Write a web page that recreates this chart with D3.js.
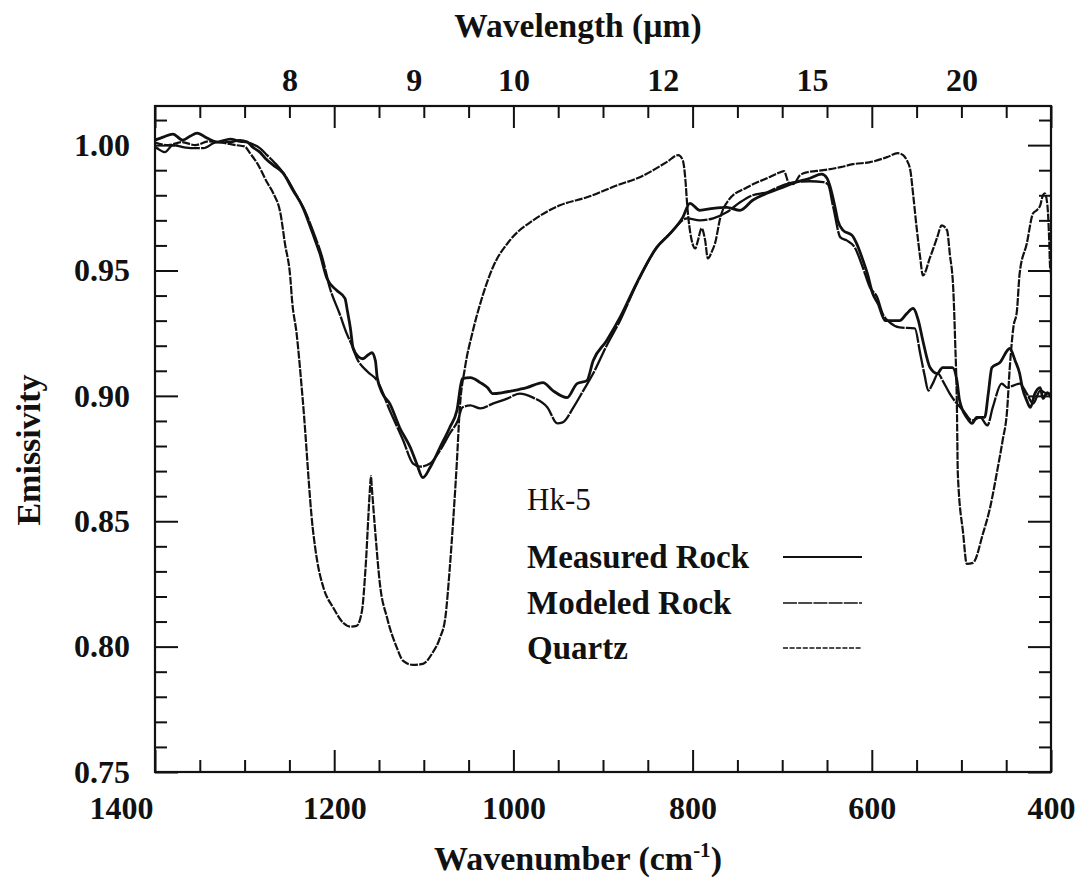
<!DOCTYPE html>
<html>
<head>
<meta charset="utf-8">
<script src="https://cdn.jsdelivr.net/npm/d3@7/dist/d3.min.js"></script>
<style>
  html, body { margin: 0; padding: 0; background: #fff; }
  svg { display: block; }
  text { font-family: "Liberation Serif", "Times New Roman", serif; fill: #111; }
</style>
</head>
<body>
<svg id="chart" width="1080" height="882"></svg>
<script>
// Emissivity spectra of sample Hk-5: [wavenumber (cm-1), emissivity]
const measuredRock = [
  [1400,1.002],[1391,1.0032],[1380,1.0044],[1369,1.002],[1361,1.0035],[1353,1.0048],[1342,1.0028],
  [1331,1.0012],[1316,1.0024],[1305,1.0015],[1297,1.0012],[1291,0.9992],[1283,0.9972],[1277,0.9948],
  [1268,0.992],[1257,0.9888],[1246,0.982],[1235,0.9752],[1224,0.9648],[1216,0.9568],[1208,0.9468],
  [1197,0.942],[1188,0.9389],[1185,0.9333],[1182,0.9272],[1179,0.9192],[1173,0.9156],[1168,0.9148],
  [1162,0.9164],[1158,0.9172],[1154,0.914],[1152,0.9073],[1146,0.9009],[1138,0.8969],[1127,0.8874],
  [1115,0.8794],[1108,0.873],[1101,0.8674],[1093,0.8714],[1082,0.8794],[1071,0.8874],[1063,0.8942],
  [1057,0.9069],[1048,0.9073],[1037,0.9053],[1029,0.9033],[1023,0.9009],[1012,0.9013],[1000,0.9021],
  [985,0.9033],[967,0.9053],[956,0.9021],[940,0.8993],[929,0.9049],[918,0.9061],[911,0.914],
  [896,0.922],[881,0.9313],[862,0.9453],[840,0.9592],[825,0.9648],[811,0.9712],[803,0.9768],
  [792,0.974],[777,0.9748],[762,0.9752],[747,0.974],[733,0.978],[717,0.9808],[702,0.9828],
  [688,0.9848],[669,0.9868],[656,0.9884],[650,0.9868],[647,0.984],[641,0.9752],[638,0.970],
  [632,0.966],[622,0.964],[617,0.9608],[611,0.9552],[605,0.9488],[599,0.9408],[593,0.9368],
  [585,0.930],[577,0.930],[569,0.930],[561,0.9328],[554,0.9349],[548,0.930],[543,0.922],
  [535,0.9113],[527,0.9089],[521,0.9113],[510,0.9113],[505,0.9061],[502,0.8981],[494,0.8914],
  [488,0.889],[483,0.8914],[474,0.8914],[470,0.9009],[466,0.9113],[457,0.9133],[446,0.9189],
  [440,0.914],[435,0.9089],[432,0.9033],[427,0.8981],[423,0.8954],[418,0.9009],[412,0.9033],
  [409,0.899],[404,0.9013],[400,0.8993]
];

const modeledRock = [
  [1400,0.9992],[1398,0.9988],[1389,0.9972],[1380,1.000],[1369,0.9992],[1358,0.9988],[1346,0.9988],
  [1331,1.0012],[1316,1.0012],[1305,1.002],[1294,1.0008],[1283,0.9988],[1275,0.996],[1266,0.9928],
  [1255,0.988],[1244,0.9812],[1233,0.974],[1221,0.9632],[1213,0.9548],[1205,0.9432],[1194,0.9328],
  [1186,0.9248],[1180,0.920],[1175,0.9152],[1163,0.9097],[1152,0.9061],[1138,0.8942],[1123,0.8822],
  [1112,0.873],[1104,0.8718],[1093,0.873],[1082,0.8782],[1071,0.885],[1062,0.8902],[1057,0.8954],
  [1048,0.8962],[1037,0.895],[1023,0.8969],[1007,0.8989],[993,0.9009],[978,0.8993],[962,0.8954],
  [951,0.889],[945,0.8894],[933,0.8954],[922,0.9021],[911,0.9089],[896,0.920],[881,0.930],
  [862,0.9449],[840,0.9592],[825,0.9648],[806,0.9708],[792,0.970],[777,0.9708],[762,0.9732],
  [747,0.9772],[733,0.980],[717,0.9812],[702,0.9836],[686,0.9852],[669,0.9856],[654,0.9852],
  [649,0.9844],[643,0.9752],[635,0.9632],[628,0.962],[619,0.9592],[610,0.9512],[602,0.9432],
  [594,0.9393],[588,0.9329],[580,0.9293],[569,0.9273],[552,0.9269],[546,0.9169],[541,0.9081],
  [537,0.9021],[532,0.9049],[526,0.9089],[521,0.9061],[513,0.9009],[505,0.8969],[498,0.8942],
  [488,0.8902],[479,0.8914],[471,0.8882],[465,0.8954],[455,0.9049],[449,0.9033],[442,0.9041],
  [435,0.9049],[427,0.9009],[420,0.8969],[412,0.9021],[404,0.9009],[400,0.9009]
];

const quartz = [
  [1400,1.001],[1385,1.000],[1370,1.0012],[1355,1.000],[1340,1.0015],[1325,1.001],[1310,1.000],
  [1300,0.9995],[1294,0.9968],[1286,0.9928],[1275,0.9852],[1268,0.9808],[1260,0.9728],[1255,0.9608],
  [1249,0.9472],[1247,0.938],[1242,0.925],[1235,0.898],[1224,0.8474],[1219,0.8342],[1212,0.8235],
  [1201,0.8155],[1190,0.8095],[1182,0.808],[1175,0.8083],[1169,0.8143],[1165,0.8314],[1160,0.8634],
  [1159,0.868],[1158,0.8634],[1154,0.845],[1149,0.825],[1141,0.8115],[1130,0.7995],[1123,0.7943],
  [1112,0.7927],[1101,0.7931],[1091,0.7971],[1082,0.8035],[1076,0.8115],[1071,0.8314],[1067,0.8514],
  [1063,0.8742],[1060,0.8942],[1054,0.9113],[1046,0.9248],[1037,0.9368],[1023,0.9512],[1004,0.962],
  [978,0.970],[948,0.976],[918,0.9792],[884,0.984],[859,0.9872],[829,0.9932],[816,0.996],
  [811,0.994],[808,0.986],[806,0.976],[803,0.966],[797,0.9588],[794,0.962],[790,0.9668],
  [786,0.962],[783,0.9548],[778,0.958],[775,0.9608],[769,0.9712],[760,0.978],[739,0.9832],
  [717,0.9868],[702,0.9892],[698,0.9896],[693,0.9852],[688,0.9844],[680,0.988],[672,0.9892],
  [654,0.990],[635,0.9912],[621,0.9924],[602,0.9932],[583,0.9952],[571,0.9968],[565,0.996],
  [561,0.994],[557,0.990],[554,0.9808],[550,0.9672],[546,0.9552],[543,0.948],[535,0.9552],
  [527,0.9632],[522,0.968],[516,0.966],[513,0.9568],[509,0.942],[507,0.922],[505,0.8954],
  [504,0.869],[498,0.845],[494,0.833],[487,0.8334],[476,0.845],[468,0.8554],[460,0.8702],
  [454,0.8822],[449,0.8942],[446,0.9113],[442,0.9273],[438,0.934],[435,0.9488],[427,0.9608],
  [420,0.9728],[416,0.974],[412,0.976],[409,0.980],[407,0.9808],[404,0.976],[402,0.962],
  [401,0.9512],[400,0.9488]
];

// Axis ticks
const wnMajor = [1400, 1200, 1000, 800, 600, 400];
const wnMinor = [1350, 1300, 1250, 1150, 1100, 1050, 950, 900, 850, 750, 700, 650, 550, 500, 450];
const emMajor = [0.75, 0.80, 0.85, 0.90, 0.95, 1.00];
const emMinor = [0.76, 0.77, 0.78, 0.79, 0.81, 0.82, 0.83, 0.84, 0.86, 0.87, 0.88, 0.89,
                 0.91, 0.92, 0.93, 0.94, 0.96, 0.97, 0.98, 0.99, 1.01];
const wavelengthLabels = [8, 9, 10, 12, 15, 20];

const legendTitle = "Hk-5";
const seriesNames = ["Measured Rock", "Modeled Rock", "Quartz"];

const svg = d3.select("#chart");
const plotLeft = 155, plotRight = 1051, plotTop = 106, plotBottom = 772;

const x = d3.scaleLinear().domain([1400, 400]).range([plotLeft, plotRight]);
const y = d3.scaleLinear().domain([0.75, 1.0156]).range([plotBottom, plotTop]);

const styles = [
  { width: 2.8, dash: null },
  { width: 2.3, dash: "24,1.2" },
  { width: 2.2, dash: "8,1.3" }
];
const seriesData = [measuredRock, modeledRock, quartz];

// Clip the curves to the plot frame
svg.append("defs").append("clipPath").attr("id", "plotClip")
  .append("rect").attr("x", plotLeft).attr("y", plotTop)
  .attr("width", plotRight - plotLeft).attr("height", plotBottom - plotTop);

const line = d3.line().x(d => x(d[0])).y(d => y(d[1])).curve(d3.curveMonotoneX);

const curves = svg.append("g").attr("clip-path", "url(#plotClip)");
// Quartz first, then the rock curves on top
[2, 1, 0].forEach(i => {
  curves.append("path")
    .datum(seriesData[i])
    .attr("fill", "none")
    .attr("stroke", "#111")
    .attr("stroke-width", styles[i].width)
    .attr("stroke-linejoin", "round")
    .attr("stroke-dasharray", styles[i].dash)
    .attr("d", line);
});

function styleAxis(g) {
  g.select(".domain").remove();
  g.selectAll(".tick line").attr("stroke", "#111").attr("stroke-width", 2);
  g.selectAll("text").attr("font-size", 32).attr("font-weight", "bold").attr("fill", "#111")
    .attr("font-family", "Liberation Serif, Times New Roman, serif");
}

// Bottom axis
const bottomAxis = svg.append("g").attr("transform", `translate(0,${plotBottom})`)
  .call(d3.axisBottom(x).tickValues(wnMajor).tickSize(-22).tickPadding(24).tickFormat(d3.format("d")))
  .call(styleAxis);
// the 1400 label sits left of the corner, clear of the 0.75 label
bottomAxis.selectAll(".tick text").filter(d => d === 1400).attr("dx", -34);
svg.append("g").attr("transform", `translate(0,${plotBottom})`)
  .call(d3.axisBottom(x).tickValues(wnMinor).tickSize(-12).tickFormat(""))
  .call(styleAxis);

// Top axis (mirrored ticks)
svg.append("g").attr("transform", `translate(0,${plotTop})`)
  .call(d3.axisTop(x).tickValues(wnMajor).tickSize(-22).tickFormat(""))
  .call(styleAxis);
svg.append("g").attr("transform", `translate(0,${plotTop})`)
  .call(d3.axisTop(x).tickValues(wnMinor).tickSize(-12).tickFormat(""))
  .call(styleAxis);
// Wavelength labels placed at 10000/λ cm-1
svg.append("g").attr("transform", `translate(0,${plotTop - 15})`)
  .call(d3.axisTop(x).tickValues(wavelengthLabels.map(l => 10000 / l)).tickSize(0).tickPadding(0)
    .tickFormat((d, i) => wavelengthLabels[i]))
  .call(styleAxis);

// Left axis
svg.append("g").attr("transform", `translate(${plotLeft},0)`)
  .call(d3.axisLeft(y).tickValues(emMajor).tickSize(-23).tickPadding(25).tickFormat(d3.format(".2f")))
  .call(styleAxis);
svg.append("g").attr("transform", `translate(${plotLeft},0)`)
  .call(d3.axisLeft(y).tickValues(emMinor).tickSize(-12).tickFormat(""))
  .call(styleAxis);

// Right axis (mirrored ticks)
svg.append("g").attr("transform", `translate(${plotRight},0)`)
  .call(d3.axisRight(y).tickValues(emMajor).tickSize(-23).tickFormat(""))
  .call(styleAxis);
svg.append("g").attr("transform", `translate(${plotRight},0)`)
  .call(d3.axisRight(y).tickValues(emMinor).tickSize(-12).tickFormat(""))
  .call(styleAxis);

// Frame
svg.append("rect").attr("x", plotLeft).attr("y", plotTop)
  .attr("width", plotRight - plotLeft).attr("height", plotBottom - plotTop)
  .attr("fill", "none").attr("stroke", "#111").attr("stroke-width", 2.2);

// Axis titles
const xTitle = svg.append("text").attr("x", 578).attr("y", 870).attr("text-anchor", "middle")
  .attr("font-size", 34).attr("font-weight", "bold");
xTitle.append("tspan").text("Wavenumber (cm");
xTitle.append("tspan").attr("font-size", 21).attr("dy", -13).text("-1");
xTitle.append("tspan").attr("dy", 13).text(")");

svg.append("text").attr("x", 578).attr("y", 37).attr("text-anchor", "middle")
  .attr("font-size", 33.5).attr("font-weight", "bold").text("Wavelength (\u00b5m)");

svg.append("text").attr("transform", "translate(40,450) rotate(-90)").attr("text-anchor", "middle")
  .attr("font-size", 34).attr("font-weight", "bold").text("Emissivity");

// Legend
const legend = svg.append("g");
legend.append("text").attr("x", 527).attr("y", 510).attr("font-size", 31).text(legendTitle);
const legendY = [557, 603, 648];
seriesNames.forEach((name, i) => {
  legend.append("text").attr("x", 527).attr("y", legendY[i] + 11)
    .attr("font-size", 33).attr("font-weight", "bold").text(name);
  legend.append("line").attr("x1", 783).attr("x2", 862).attr("y1", legendY[i]).attr("y2", legendY[i])
    .attr("stroke", "#111").attr("stroke-width", i === 0 ? 1.8 : 1.5)
    .attr("stroke-dasharray", i === 0 ? null : (i === 1 ? "14,1.2" : "5,1.6"));
});
</script>
</body>
</html>
